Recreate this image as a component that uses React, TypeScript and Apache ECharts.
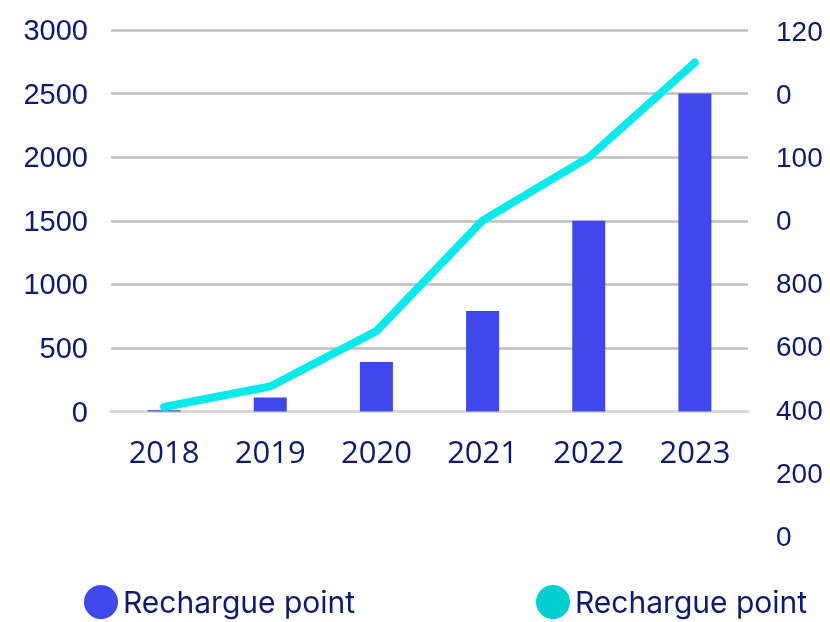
import React, { useEffect, useRef } from "react";
import * as echarts from "echarts";

const categories = ["2018", "2019", "2020", "2021", "2022", "2023"];
const barValues = [10, 110, 390, 790, 1500, 2500];
const lineValues = [410, 475, 650, 1000, 1200, 1500];
const rightAxisLabels = ["0", "200", "400", "600", "800", "0", "100", "0", "120"];
const seriesName = "Rechargue point";

const TEXT = "#0d1b6e";
const BAR = "#3f48ec";
const LINE = "#08eaea";
const LINE_LEGEND = "#00ced1";

export default function App() {
  const ref = useRef<HTMLDivElement>(null);
  useEffect(() => {
    if (!ref.current) return;
    const chart = echarts.init(ref.current, undefined, { renderer: "svg" });
    const legendText = { color: TEXT, fontSize: 30, lineHeight: 30, fontFamily: "Inter" };
    chart.setOption({
      animation: false,
      grid: [
        { left: 111, right: 82, top: 30, height: 381.5 },
        { left: 111, right: 82, top: 31, height: 505.5 },
      ],
      xAxis: [
        {
          type: "category",
          gridIndex: 0,
          data: categories,
          axisLine: { lineStyle: { color: "#d9d9d9", width: 3 } },
          axisTick: { show: false },
          axisLabel: {
            color: TEXT,
            fontSize: 31,
            fontFamily: "Open Sans",
            margin: 24,
          },
        },
        {
          type: "category",
          gridIndex: 1,
          data: categories,
          show: false,
        },
      ],
      yAxis: [
        {
          type: "value",
          gridIndex: 0,
          min: 0,
          max: 3000,
          interval: 500,
          axisLine: { show: false },
          axisTick: { show: false },
          splitLine: { lineStyle: { color: "#bfbfbf", width: 2.5 } },
          axisLabel: {
            color: TEXT,
            fontSize: 29,
            fontFamily: "Liberation Sans",
            margin: 23,
            formatter: (v: number) => String(v),
          },
        },
        {
          type: "value",
          gridIndex: 1,
          position: "right",
          min: 0,
          max: 1600,
          interval: 200,
          axisLine: { show: false },
          axisTick: { show: false },
          splitLine: { show: false },
          axisLabel: {
            color: TEXT,
            fontSize: 28,
            fontFamily: "Liberation Sans",
            margin: 28,
            formatter: (v: number) => rightAxisLabels[Math.round(v / 200)] ?? "",
          },
        },
      ],
      legend: [
        {
          left: 84,
          top: 585,
          padding: 0,
          icon: "circle",
          itemWidth: 34,
          itemHeight: 34,
          itemGap: 8,
          selectedMode: false,
          textStyle: legendText,
          data: [{ name: seriesName, itemStyle: { color: BAR } }],
        },
        {
          left: 536,
          top: 585,
          padding: 0,
          icon: "circle",
          itemWidth: 34,
          itemHeight: 34,
          itemGap: 8,
          selectedMode: false,
          textStyle: legendText,
          data: [{ name: seriesName, itemStyle: { color: LINE_LEGEND } }],
        },
      ],
      series: [
        {
          name: seriesName,
          type: "bar",
          xAxisIndex: 0,
          yAxisIndex: 0,
          data: barValues,
          barWidth: 33,
          itemStyle: { color: BAR },
        },
        {
          name: seriesName,
          type: "line",
          xAxisIndex: 1,
          yAxisIndex: 1,
          data: lineValues,
          symbol: "none",
          lineStyle: { color: LINE, width: 8, cap: "round", join: "round" },
          itemStyle: { color: LINE },
        },
      ],
    });
    return () => chart.dispose();
  }, []);
  return (
    <div
      ref={ref}
      style={{ position: "fixed", left: 0, top: 0, width: 830, height: 622 }}
    />
  );
}
